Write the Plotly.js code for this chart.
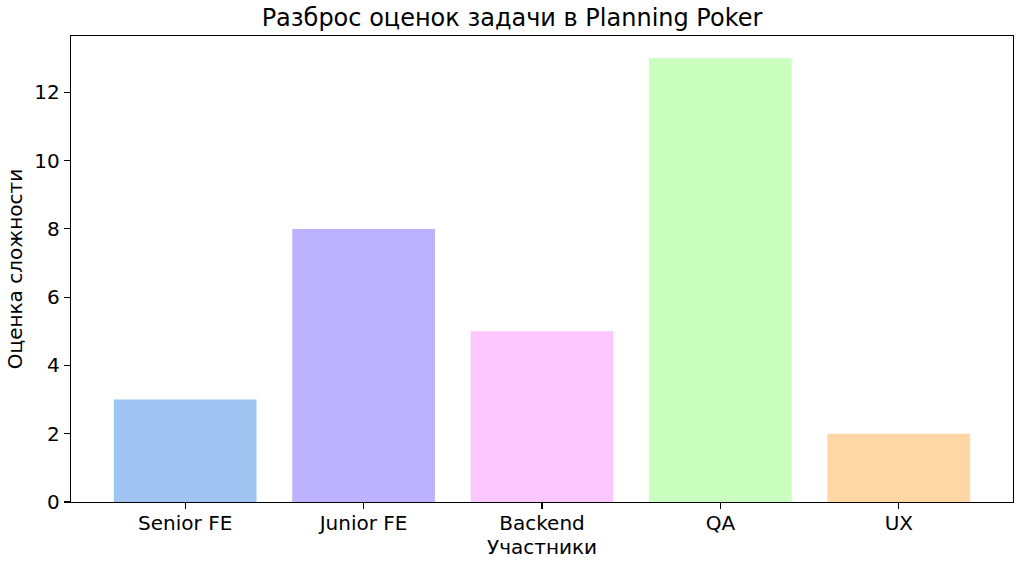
<!DOCTYPE html>
<html>
<head>
<meta charset="utf-8">
<script src="https://cdn.plot.ly/plotly-3.0.1.min.js"></script>
<style>html,body{margin:0;padding:0;background:#fff;}#chart{width:1024px;height:572px;}</style>
</head>
<body>
<div id="chart"></div>
<script>
const categories = ["Senior FE", "Junior FE", "Backend", "QA", "UX"];
const estimates = [3, 8, 5, 13, 2];
const barColors = ["#A0C4F2", "#BDB2FF", "#FCC6FF", "#CAFFBF", "#FFD6A5"];

const xIdx = categories.map((_, i) => i);

const trace = {
  type: "bar",
  x: xIdx,
  y: estimates,
  width: 0.8,
  marker: {color: barColors, line: {width: 0}},
  hoverinfo: "x+y"
};

const font = {family: "DejaVu Sans, sans-serif", color: "#000"};

const layout = {
  width: 1024, height: 572,
  margin: {l: 71, r: 11, t: 36, b: 70},
  paper_bgcolor: "#fff", plot_bgcolor: "#fff",
  showlegend: false,
  font: Object.assign({size: 20}, font),
  title: {text: "Разброс оценок задачи в Planning Poker", font: Object.assign({size: 24}, font), x: 0.5, xanchor: "center", y: 1, yref: "paper", yanchor: "bottom", pad: {b: 10}},
  xaxis: {
    range: [-0.64, 4.64],
    tickmode: "array", tickvals: xIdx, ticktext: categories,
    ticks: "outside", ticklen: 6, tickwidth: 1.2, tickcolor: "#000",
    ticklabelstandoff: -3,
    showline: true, linecolor: "#000", linewidth: 1.2, mirror: true,
    showgrid: false, zeroline: false,
    tickfont: Object.assign({size: 20}, font),
    title: {text: "Участники", font: Object.assign({size: 20}, font), standoff: 2}
  },
  yaxis: {
    range: [0, 13.65],
    tickmode: "array", tickvals: [0, 2, 4, 6, 8, 10, 12],
    ticks: "outside", ticklen: 6, tickwidth: 1.2, tickcolor: "#000",
    showline: true, linecolor: "#000", linewidth: 1.2, mirror: true,
    showgrid: false, zeroline: false,
    tickfont: Object.assign({size: 20}, font),
    title: {text: "Оценка сложности", font: Object.assign({size: 20}, font), standoff: 6}
  }
};

Plotly.newPlot("chart", [trace], layout, {displayModeBar: false, staticPlot: true});
</script>
</body>
</html>
